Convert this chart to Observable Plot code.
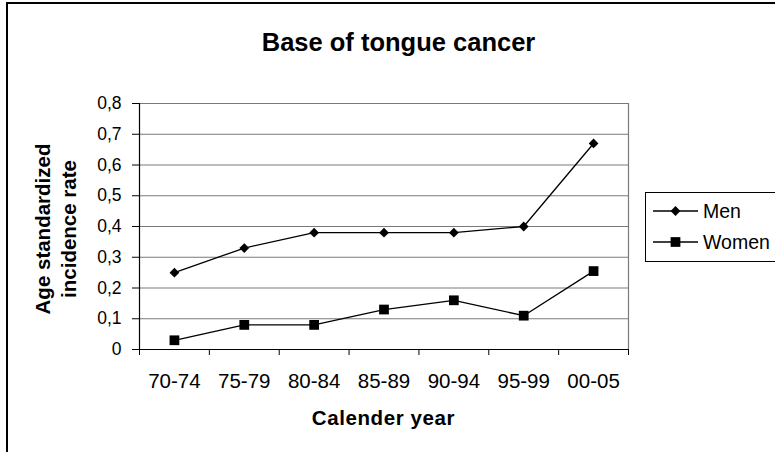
<!DOCTYPE html>
<html><head><meta charset="utf-8">
<script src="https://cdn.jsdelivr.net/npm/d3@7"></script>
<script src="https://cdn.jsdelivr.net/npm/@observablehq/plot@0.6"></script>
<style>
body{margin:0;background:#fff;}
#chart{position:relative;width:775px;height:452px;overflow:hidden;}
</style>
</head><body><div id="chart"></div>
<script>
const periods = ["70-74","75-79","80-84","85-89","90-94","95-99","00-05"];
const men = [0.25,0.33,0.38,0.38,0.38,0.40,0.67];
const women = [0.03,0.08,0.08,0.13,0.16,0.11,0.255];
const yTicks = [0,0.1,0.2,0.3,0.4,0.5,0.6,0.7,0.8];
const seriesNames = ["Men","Women"];
const titleText = "Base of tongue cancer";
const xTitleText = "Calender year";
const yTitleLines = ["Age standardized","incidence rate"];

const rows = [];
periods.forEach((p,i)=>{
  rows.push({i, period:p, value:men[i], series:seriesNames[0]});
  rows.push({i, period:p, value:women[i], series:seriesNames[1]});
});
const fmt = d => d === 0 ? "0" : d.toFixed(1).replace(".", ",");
const FONT = "Arial, 'Liberation Sans', sans-serif";

const chart = Plot.plot({
  width:775, height:452,
  marginLeft:139, marginRight:147, marginTop:103, marginBottom:103,
  style:{fontFamily:FONT, color:"#000", background:"#fff", overflow:"visible"},
  x:{type:"linear", domain:[0, periods.length]},
  y:{domain:[0,0.8]},
  marks:[
    Plot.ruleY(yTicks.filter(d=>d>0), {stroke:"#7a7a7a", strokeWidth:1.2}),
    Plot.ruleX([periods.length], {y1:0, y2:0.8, stroke:"#7a7a7a", strokeWidth:1.2}),
    Plot.ruleX([0], {y1:0, y2:0.8, stroke:"#000", strokeWidth:1.2}),
    Plot.ruleY([0], {stroke:"#000", strokeWidth:1.2}),
    Plot.axisY({ticks:yTicks, tickSize:7, tickPadding:11, tickFormat:fmt, fontSize:17.5, label:null}),
    Plot.axisX({ticks:d3.range(periods.length+1), tickSize:6, tickFormat:()=>"", label:null}),
    Plot.axisX({ticks:periods.map((p,i)=>i+0.5), tickSize:0, tickPadding:24,
      tickFormat:d=>periods[Math.floor(d)], fontSize:20.5, label:null}),
    Plot.line(rows, {x:d=>d.i+0.5, y:"value", z:"series", stroke:"#000", strokeWidth:1.3}),
    Plot.dot(rows.filter(d=>d.series===seriesNames[0]), {x:d=>d.i+0.5, y:"value", symbol:()=>"diamond2", r:4.4, fill:"#000", stroke:"none"}),
    Plot.dot(rows.filter(d=>d.series===seriesNames[1]), {x:d=>d.i+0.5, y:"value", symbol:()=>"square", r:5.5, fill:"#000", stroke:"none"})
  ]
});
document.getElementById("chart").appendChild(chart);

const svg = d3.select(chart);
// outer frame
svg.insert("rect", ":first-child").attr("x",7).attr("y",3).attr("width",900).attr("height",600)
  .attr("fill","none").attr("stroke","#000").attr("stroke-width",2);
// title
svg.append("text").attr("x",398.5).attr("y",51).attr("text-anchor","middle")
  .attr("font-family",FONT).attr("font-weight","bold").attr("font-size",25.5).text(titleText);
// x title
svg.append("text").attr("x",383.5).attr("y",425).attr("text-anchor","middle")
  .attr("font-family",FONT).attr("font-weight","bold").attr("font-size",20.5)
  .attr("letter-spacing","0.6px").text(xTitleText);
// y title
const yt = svg.append("text").attr("transform","translate(0,229) rotate(-90)")
  .attr("text-anchor","middle").attr("font-family",FONT).attr("font-weight","bold").attr("font-size",20.5);
yTitleLines.forEach((t,k)=>{
  yt.append("tspan").attr("x",0).attr("y",[43,69][k]).attr("dy","0.35em").text(t);
});
// legend
const lg = svg.append("g").attr("font-family",FONT).attr("font-size",19.5).attr("text-anchor","start");
lg.append("rect").attr("x",645.5).attr("y",192.5).attr("width",200).attr("height",69)
  .attr("fill","#fff").attr("stroke","#000").attr("stroke-width",1);
const symTypes = [d3.symbolDiamond2, d3.symbolSquare];
const symSizes = [Math.PI*4.4*4.4, Math.PI*5.5*5.5];
seriesNames.forEach((name,k)=>{
  const y = [211, 242][k];
  lg.append("line").attr("x1",653).attr("x2",698).attr("y1",y).attr("y2",y).attr("stroke","#000").attr("stroke-width",1.3);
  lg.append("path").attr("transform",`translate(675.5,${y})`).attr("d", d3.symbol(symTypes[k], symSizes[k])()).attr("fill","#000");
  lg.append("text").attr("x",703).attr("y",y).attr("dy","0.36em").attr("text-anchor","start").text(name);
});
</script></body></html>
